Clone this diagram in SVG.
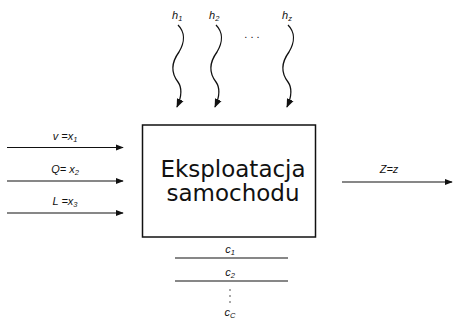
<svg xmlns="http://www.w3.org/2000/svg" width="453" height="322" viewBox="0 0 453 322">
  <defs>
    <marker id="arrow" viewBox="0 0 10 10" refX="9" refY="5" markerWidth="8" markerHeight="8" markerUnits="userSpaceOnUse" orient="auto">
      <path d="M0,1 L10,5 L0,9 Z" fill="#111"/>
    </marker>
    <marker id="arrowWave" viewBox="0 0 10 10" refX="9" refY="5" markerWidth="9" markerHeight="9" markerUnits="userSpaceOnUse" orient="auto">
      <path d="M0,1 L10,5 L0,9 Z" fill="#111"/>
    </marker>
  </defs>
  <style>
    .line { stroke: #111; stroke-width: 1.2; fill: none; }
    .wave { stroke: #111; stroke-width: 1.3; fill: none; }
    .lbl { font-family: "Liberation Sans", Arial, sans-serif; font-style: italic; font-size: 11px; fill: #111; }
    .sub { font-size: 7.5px; }
    .main { font-family: "DejaVu Sans", "Liberation Sans", sans-serif; font-size: 23px; fill: #111; }
  </style>
  <rect width="453" height="322" fill="#fff"/>

  <!-- central process block -->
  <g id="process">
    <rect x="142.5" y="125" width="173" height="112" fill="none" stroke="#111" stroke-width="1.5"/>
    <text class="main" x="233" y="177" text-anchor="middle">Eksploatacja</text>
    <text class="main" x="233" y="201" text-anchor="middle">samochodu</text>
  </g>

  <!-- disturbance labels -->
  <g id="disturbances">
    <text class="lbl" x="172" y="19">h<tspan class="sub" dy="2">1</tspan></text>
    <text class="lbl" x="209" y="19">h<tspan class="sub" dy="2">2</tspan></text>
    <text class="lbl" x="282" y="19">h<tspan class="sub" dy="2">z</tspan></text>
    <text class="lbl" x="252" y="38" text-anchor="middle" style="font-style:normal">. . .</text>
  </g>

  <!-- input labels -->
  <g id="inputs">
    <text class="lbl" x="65" y="140" text-anchor="middle">v =x<tspan class="sub" dy="2">1</tspan></text>
    <text class="lbl" x="65" y="173" text-anchor="middle">Q= x<tspan class="sub" dy="2">2</tspan></text>
    <text class="lbl" x="65" y="205" text-anchor="middle">L =x<tspan class="sub" dy="2">3</tspan></text>
  </g>

  <!-- output label -->
  <g id="output">
    <text class="lbl" x="389" y="173" text-anchor="middle">Z=z</text>
  </g>

  <!-- constraint list -->
  <g id="constraints">
    <text class="lbl" x="230" y="253" text-anchor="middle">c<tspan class="sub" dy="2">1</tspan></text>
    <line class="line" x1="175" y1="258" x2="288" y2="258"/>
    <text class="lbl" x="230" y="276" text-anchor="middle">c<tspan class="sub" dy="2">2</tspan></text>
    <line class="line" x1="175" y1="281" x2="288" y2="281" stroke-width="1"/>
    <circle cx="230" cy="290" r="0.7" fill="#111"/>
    <circle cx="230" cy="296" r="0.7" fill="#111"/>
    <circle cx="230" cy="302" r="0.7" fill="#111"/>
    <text class="lbl" x="230" y="316" text-anchor="middle">c<tspan class="sub" dy="2">C</tspan></text>
  </g>

  <!-- connectors -->
  <g id="connectors">
    <line class="line" x1="7" y1="147.5" x2="123" y2="147.5" marker-end="url(#arrow)"/>
    <line class="line" x1="7" y1="181" x2="123" y2="181" marker-end="url(#arrow)"/>
    <line class="line" x1="7" y1="213" x2="123" y2="213" marker-end="url(#arrow)"/>
    <line class="line" x1="342" y1="182" x2="452" y2="182" marker-end="url(#arrow)"/>
    <path class="wave" d="M178,25 C185,32 185,42 179,52 C171,63 171,73 178,82 C183,89 181,98 177,107" marker-end="url(#arrowWave)"/>
    <path class="wave" d="M216,25 C223,32 223,42 217,52 C209,63 209,73 216,82 C221,89 219,98 215,107" marker-end="url(#arrowWave)"/>
    <path class="wave" d="M288,25 C295,32 295,42 289,52 C281,63 281,73 288,82 C293,89 291,98 287,107" marker-end="url(#arrowWave)"/>
  </g>
</svg>
